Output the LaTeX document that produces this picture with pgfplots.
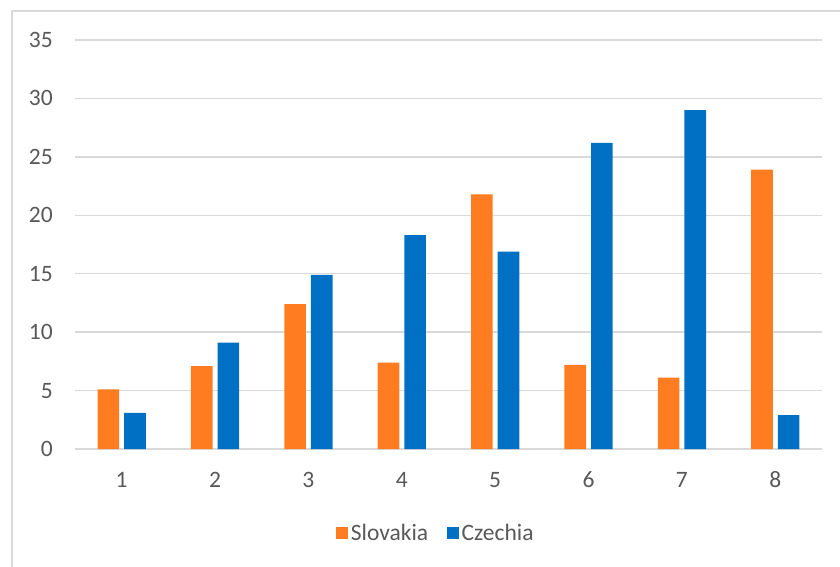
\documentclass[border=0pt]{standalone}
\usepackage{fontspec}
\setmainfont{Carlito}
\usepackage{pgfplots}
\pgfplotsset{compat=1.18}
\definecolor{sk}{HTML}{FF7D20}
\definecolor{cz}{HTML}{0070C4}
\definecolor{gridc}{HTML}{D9D9D9}
\definecolor{txt}{HTML}{595959}
\begin{document}
\begin{tikzpicture}
\clip (-75bp,-118bp) rectangle (765bp,449bp);
\fill[white] (-75bp,-118bp) rectangle (765bp,449bp);
\draw[gridc, line width=1.3bp] (-63bp,-200bp) -- (-63bp,438bp) -- (900bp,438bp);
\begin{axis}[
  at={(0,0)}, anchor=origin,
  scale only axis,
  width=747bp, height=409bp,
  xmin=0.5, xmax=8.5, ymin=0, ymax=35,
  ybar=5bp, bar width=21.6bp,
  xtick={1,...,8}, ytick={0,5,...,35},
  axis x line*=bottom, axis y line*=left,
  x axis line style={gridc, line width=1.4bp},
  y axis line style={draw=none},
  ymajorgrids, grid style={gridc, line width=1.4bp},
  major tick length=0pt,
  /pgf/number format/assume math mode=true,
  tick label style={text=txt, font=\fontsize{23.5bp}{27bp}\selectfont, inner sep=0pt},
  yticklabel style={anchor=east, xshift=-22bp},
  xticklabel style={anchor=center, yshift=-31bp},
  legend columns=2,
  legend style={at={(0.4839,-0.2054)}, anchor=center, draw=none, fill=none,
    font=\fontsize{23.5bp}{27bp}\selectfont, text=txt,
    nodes={inner xsep=3bp},
    /tikz/every even column/.append style={column sep=16bp}},
  legend image code/.code={\fill[#1] (0bp,-5.5bp) rectangle (11.5bp,6bp);},
]
\addplot[draw=none, fill=sk] coordinates {(1,5.1) (2,7.1) (3,12.4) (4,7.4) (5,21.8) (6,7.2) (7,6.1) (8,23.9)};
\addplot[draw=none, fill=cz] coordinates {(1,3.1) (2,9.1) (3,14.9) (4,18.3) (5,16.9) (6,26.2) (7,29.0) (8,2.9)};
\legend{Slovakia, Czechia}
\end{axis}
\end{tikzpicture}
\end{document}
